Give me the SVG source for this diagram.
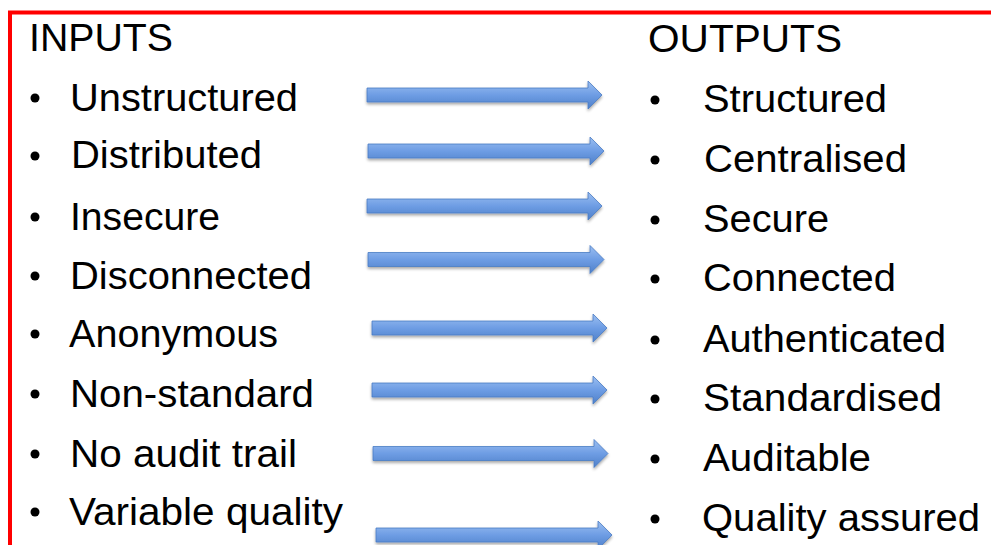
<svg xmlns="http://www.w3.org/2000/svg" width="991" height="545" viewBox="0 0 991 545">
  <defs>
    <linearGradient id="ag" x1="0" y1="0" x2="0" y2="1">
      <stop offset="0" stop-color="#9cbff1"/>
      <stop offset="0.5" stop-color="#6e9de4"/>
      <stop offset="1" stop-color="#4f80c9"/>
    </linearGradient>
    <filter id="sh" x="-5%" y="-50%" width="110%" height="200%">
      <feGaussianBlur in="SourceAlpha" stdDeviation="1.5"/>
      <feOffset dx="0" dy="2" result="b"/>
      <feComponentTransfer><feFuncA type="linear" slope="0.35"/></feComponentTransfer>
      <feMerge><feMergeNode/><feMergeNode in="SourceGraphic"/></feMerge>
    </filter>
  </defs>
  <style>
    .t { font-family: "Liberation Sans", Arial, sans-serif; font-size: 38px; fill: #000; }
    .h { font-family: "Liberation Sans", Arial, sans-serif; font-size: 39px; fill: #000; }
    .b { fill: #000; }
    .arrow { fill: url(#ag); stroke: #4a7cc4; stroke-width: 0.8; filter: url(#sh); }
    .frame { stroke: #ff0000; stroke-width: 4; fill: none; }
  </style>
  <rect width="991" height="545" fill="#fff"/>
  <path class="frame" d="M10,545 L10,12.5 L991,12.5"/>

  <g id="inputs">
    <text class="h" x="29" y="51" textLength="144" lengthAdjust="spacingAndGlyphs">INPUTS</text>
    <g id="in1"><circle class="b" cx="35" cy="98" r="4.5"/><text class="t" x="70" y="111" textLength="228" lengthAdjust="spacingAndGlyphs">Unstructured</text></g>
    <g id="in2"><circle class="b" cx="35" cy="156" r="4.5"/><text class="t" x="71" y="168" textLength="191" lengthAdjust="spacingAndGlyphs">Distributed</text></g>
    <g id="in3"><circle class="b" cx="35" cy="217" r="4.5"/><text class="t" x="70" y="230" textLength="150" lengthAdjust="spacingAndGlyphs">Insecure</text></g>
    <g id="in4"><circle class="b" cx="35" cy="276" r="4.5"/><text class="t" x="70" y="289" textLength="242" lengthAdjust="spacingAndGlyphs">Disconnected</text></g>
    <g id="in5"><circle class="b" cx="35" cy="334" r="4.5"/><text class="t" x="69" y="347" textLength="209" lengthAdjust="spacingAndGlyphs">Anonymous</text></g>
    <g id="in6"><circle class="b" cx="35" cy="394" r="4.5"/><text class="t" x="70" y="407" textLength="244" lengthAdjust="spacingAndGlyphs">Non-standard</text></g>
    <g id="in7"><circle class="b" cx="35" cy="454" r="4.5"/><text class="t" x="70" y="467" textLength="227" lengthAdjust="spacingAndGlyphs">No audit trail</text></g>
    <g id="in8"><circle class="b" cx="35" cy="512" r="4.5"/><text class="t" x="69" y="525" textLength="274" lengthAdjust="spacingAndGlyphs">Variable quality</text></g>
  </g>

  <g id="outputs">
    <text class="h" x="648" y="52" textLength="194" lengthAdjust="spacingAndGlyphs">OUTPUTS</text>
    <g id="out1"><circle class="b" cx="655" cy="100" r="4.5"/><text class="t" x="703" y="112" textLength="184" lengthAdjust="spacingAndGlyphs">Structured</text></g>
    <g id="out2"><circle class="b" cx="655" cy="160" r="4.5"/><text class="t" x="704" y="172" textLength="203" lengthAdjust="spacingAndGlyphs">Centralised</text></g>
    <g id="out3"><circle class="b" cx="655" cy="220" r="4.5"/><text class="t" x="703" y="232" textLength="126" lengthAdjust="spacingAndGlyphs">Secure</text></g>
    <g id="out4"><circle class="b" cx="655" cy="279" r="4.5"/><text class="t" x="703" y="291" textLength="193" lengthAdjust="spacingAndGlyphs">Connected</text></g>
    <g id="out5"><circle class="b" cx="655" cy="340" r="4.5"/><text class="t" x="703" y="352" textLength="243" lengthAdjust="spacingAndGlyphs">Authenticated</text></g>
    <g id="out6"><circle class="b" cx="655" cy="399" r="4.5"/><text class="t" x="703" y="411" textLength="239" lengthAdjust="spacingAndGlyphs">Standardised</text></g>
    <g id="out7"><circle class="b" cx="655" cy="459" r="4.5"/><text class="t" x="703" y="471" textLength="168" lengthAdjust="spacingAndGlyphs">Auditable</text></g>
    <g id="out8"><circle class="b" cx="655" cy="519" r="4.5"/><text class="t" x="702" y="531" textLength="278" lengthAdjust="spacingAndGlyphs">Quality assured</text></g>
  </g>

  <g id="connectors">
    <path class="arrow" d="M367,88 L588,88 L588,81 L602,95 L588,109 L588,102 L367,102 Z"/>
    <path class="arrow" d="M368,144 L590,144 L590,137 L604,151 L590,165 L590,158 L368,158 Z"/>
    <path class="arrow" d="M367,199 L588,199 L588,192 L602,206 L588,220 L588,213 L367,213 Z"/>
    <path class="arrow" d="M368,252.5 L590,252.5 L590,245.5 L604,259.5 L590,273.5 L590,266.5 L368,266.5 Z"/>
    <path class="arrow" d="M372,321 L593,321 L593,314 L607,328 L593,342 L593,335 L372,335 Z"/>
    <path class="arrow" d="M372,383 L593,383 L593,376 L607,390 L593,404 L593,397 L372,397 Z"/>
    <path class="arrow" d="M373,446.5 L594,446.5 L594,439.5 L608,453.5 L594,467.5 L594,460.5 L373,460.5 Z"/>
    <path class="arrow" d="M376,528 L598,528 L598,521 L612,535 L598,549 L598,542 L376,542 Z"/>
  </g>
</svg>
